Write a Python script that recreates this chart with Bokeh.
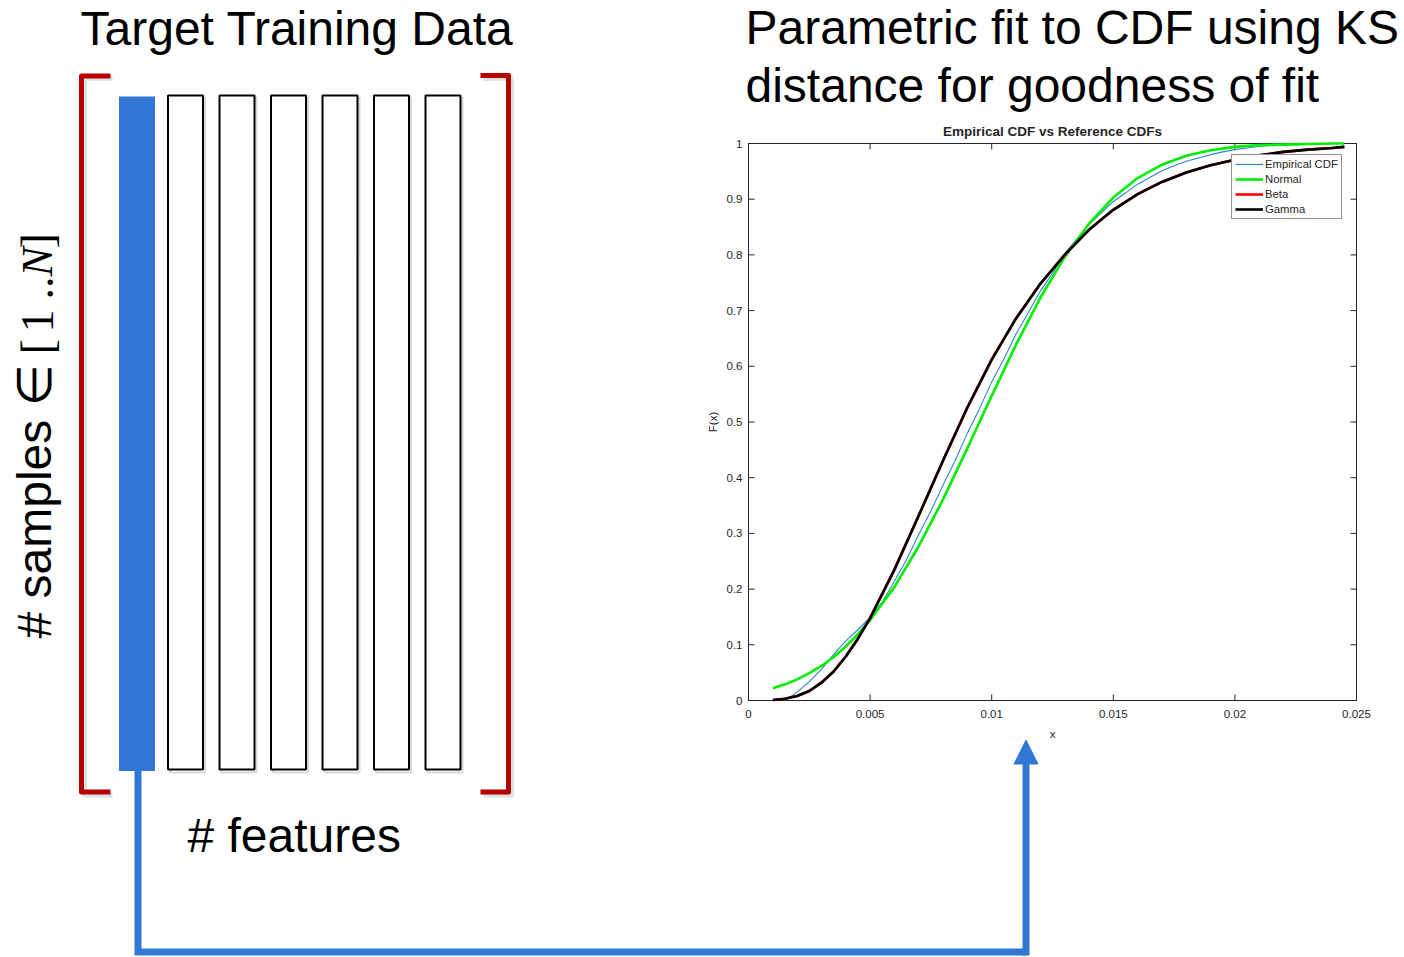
import math

from bokeh.core.properties import value
from bokeh.embed import file_html
from bokeh.models import Arrow, Legend, LegendItem, NormalHead, Range1d
from bokeh.plotting import figure
from bokeh.resources import INLINE

# ---------------------------------------------------------------- data
# Empirical CDF of the selected target feature
ecdf_x = [0.0015, 0.0020, 0.0025, 0.0030, 0.0035, 0.0040, 0.0045, 0.0050,
          0.0055, 0.0060, 0.0065, 0.0070, 0.0075, 0.0080, 0.0085, 0.0090,
          0.0095, 0.0100, 0.0105, 0.0110, 0.0115, 0.0120, 0.0125, 0.0130,
          0.0135, 0.0140, 0.0145, 0.0150, 0.0155, 0.0160, 0.0165, 0.0170,
          0.0175, 0.0180, 0.0185, 0.0190, 0.0195, 0.0200, 0.0205, 0.0210,
          0.0215, 0.0220, 0.0225]
ecdf_f = [0.000, 0.015, 0.034, 0.056, 0.083, 0.107, 0.127, 0.149,
          0.177, 0.214, 0.253, 0.298, 0.340, 0.387, 0.431, 0.480,
          0.524, 0.572, 0.613, 0.658, 0.696, 0.735, 0.767, 0.802,
          0.829, 0.854, 0.875, 0.896, 0.911, 0.927, 0.939, 0.951,
          0.960, 0.968, 0.974, 0.980, 0.985, 0.989, 0.992, 0.995,
          0.997, 0.999, 1.000]

# Fitted reference distributions, evaluated on a common grid
fit_x = [0.0010, 0.0015, 0.0020, 0.0025, 0.0030, 0.0035, 0.0040, 0.0045,
         0.0050, 0.0060, 0.0070, 0.0080, 0.0090, 0.0100, 0.0110, 0.0120,
         0.0130, 0.0140, 0.0150, 0.0160, 0.0170, 0.0180, 0.0190, 0.0200,
         0.0210, 0.0220, 0.0230, 0.0240, 0.0245]
normal_f = [0.022, 0.029, 0.038, 0.049, 0.062, 0.078, 0.097, 0.119,
            0.144, 0.204, 0.277, 0.361, 0.453, 0.547, 0.639, 0.723,
            0.796, 0.856, 0.903, 0.938, 0.962, 0.978, 0.988, 0.994,
            0.997, 0.998, 0.999, 1.000, 1.000]
beta_f = [0.001, 0.003, 0.008, 0.017, 0.032, 0.052, 0.079, 0.111,
          0.148, 0.235, 0.332, 0.431, 0.526, 0.612, 0.686, 0.748,
          0.800, 0.845, 0.881, 0.909, 0.931, 0.948, 0.961, 0.971,
          0.979, 0.985, 0.989, 0.992, 0.994]
gamma_f = [0.001, 0.003, 0.008, 0.017, 0.032, 0.052, 0.079, 0.111,
           0.148, 0.235, 0.332, 0.431, 0.526, 0.612, 0.686, 0.748,
           0.800, 0.845, 0.881, 0.909, 0.931, 0.948, 0.961, 0.971,
           0.979, 0.985, 0.989, 0.992, 0.994]

series_names = ["Empirical CDF", "Normal", "Beta", "Gamma"]

x_ticks = [0, 0.005, 0.01, 0.015, 0.02, 0.025]
x_tick_labels = ["0", "0.005", "0.01", "0.015", "0.02", "0.025"]
y_ticks = [0, 0.1, 0.2, 0.3, 0.4, 0.5, 0.6, 0.7, 0.8, 0.9, 1]
y_tick_labels = ["0", "0.1", "0.2", "0.3", "0.4", "0.5", "0.6", "0.7", "0.8", "0.9", "1"]

n_features = 7
target_feature = 0

# ---------------------------------------------------------------- layout / styles
PAGE_W, PAGE_H = 1404, 957
BOX_L, BOX_R, BOX_T, BOX_B = 748, 1356, 143, 700     # CDF axes box on the page
TICK_PX = 6

SANS = value("Liberation Sans")
SERIF = value("Liberation Serif")
BLUE = "#3178d6"
DARK_RED = "#b40000"
AXIS_INK = "#262626"
SHADOW = "#a8a8a8"

# One canvas in page pixels (y grows downward); the CDF panel gets its own ranges
p = figure(width=PAGE_W, height=PAGE_H, x_range=Range1d(0, PAGE_W),
           y_range=Range1d(PAGE_H, 0), output_backend="svg",
           toolbar_location=None, x_axis_location=None, y_axis_location=None,
           min_border=0)
p.grid.visible = False
p.outline_line_color = None

x_lo, x_hi = x_ticks[0], x_ticks[-1]
y_lo, y_hi = y_ticks[0], y_ticks[-1]
px_per_x = (BOX_R - BOX_L) / (x_hi - x_lo)
px_per_y = (BOX_B - BOX_T) / (y_hi - y_lo)
p.extra_x_ranges = {"cdf_x": Range1d(x_lo - BOX_L / px_per_x,
                                     x_hi + (PAGE_W - BOX_R) / px_per_x)}
p.extra_y_ranges = {"cdf_y": Range1d(y_lo - (PAGE_H - BOX_B) / px_per_y,
                                     y_hi + BOX_T / px_per_y)}
C = dict(x_range_name="cdf_x", y_range_name="cdf_y")

# ---------------------------------------------------------------- data matrix
col_top, col_bottom, col_w = 95, 770, 35
col_centers = [136.5 if i == target_feature else 185 + 51.5 * (i - 1)
               for i in range(n_features)]
plain = [c for i, c in enumerate(col_centers) if i != target_feature]

# soft drop shadows
p.quad(left=[c - col_w / 2 + 2 for c in plain], right=[c + col_w / 2 + 2 for c in plain],
       top=col_top + 2, bottom=col_bottom + 2, fill_color=None,
       line_color=SHADOW, line_alpha=0.45, line_width=2)
for xs in ([112, 84, 84, 112], [483, 511, 511, 483]):
    p.line(xs, [78, 78, 794.5, 794.5], line_color=SHADOW, line_alpha=0.35,
           line_width=5, line_join="round")

p.quad(left=[c - col_w / 2 for c in plain], right=[c + col_w / 2 for c in plain],
       top=col_top, bottom=col_bottom - 1, fill_color="white",
       line_color="black", line_width=2)
tc = col_centers[target_feature]
p.quad(left=tc - col_w / 2 - 0.5, right=tc + col_w / 2 + 0.5, top=col_top + 1,
       bottom=col_bottom + 0.5, fill_color=BLUE, line_color=None)

# brackets
p.line([110, 81, 81, 110], [75.5, 75.5, 791.5, 791.5], line_color=DARK_RED,
       line_width=5, line_join="round")
p.line([480, 508, 508, 480], [75, 75, 791.5, 791.5], line_color=DARK_RED,
       line_width=5, line_join="round")

p.text(x=[80], y=[28], text=["Target Training Data"], text_font=SANS,
       text_font_size="48px", text_baseline="middle", text_color="black")
p.text(x=[187], y=[835], text=["# features"], text_font=SANS,
       text_font_size="48px", text_baseline="middle", text_color="black")

# vertical label "# samples ∈ [1..N]"
up = math.pi / 2
p.text(x=[34], y=[638], text=["# samples \u2208"], angle=up, text_font=SANS,
       text_font_size="48px", text_baseline="alphabetic", text_color="black")
p.text(x=[37, 37, 37, 37], y=[354, 332, 299, 248], text=["[", "1", "..", "]"],
       angle=up, text_font=SERIF, text_font_size="46px",
       text_baseline="alphabetic", text_color="black")
p.text(x=[37], y=[276], text=["N"], angle=up, text_font=SERIF,
       text_font_style="italic", text_font_size="44px",
       text_baseline="alphabetic", text_color="black")

# connector from the target column into the CDF's x axis
p.line([tc + 1, tc + 1, 1025.5], [770, 951.5, 951.5], line_color=BLUE,
       line_width=7, line_join="miter")
p.add_layout(Arrow(x_start=1025.5, y_start=951.5 + 3.5, x_end=1025.5, y_end=739.5,
                   line_color=BLUE, line_width=7,
                   end=NormalHead(size=24, fill_color=BLUE, line_color=BLUE,
                                  line_width=1)))

# ---------------------------------------------------------------- headings on the right
p.text(x=[745, 745], y=[27, 85],
       text=["Parametric fit to CDF using KS", "distance for goodness of fit"],
       text_font=SANS, text_font_size="48px", text_baseline="middle",
       text_color="black")
p.text(x=[(x_lo + x_hi) / 2], y=[y_hi], y_offset=-12,
       text=["Empirical CDF vs Reference CDFs"], text_font=SANS,
       text_font_size="13.5px", text_font_style="bold", text_align="center",
       text_baseline="middle", text_color=AXIS_INK, **C)

# ---------------------------------------------------------------- CDF axes
tx = TICK_PX / px_per_x
ty = TICK_PX / px_per_y
p.quad(left=x_lo, right=x_hi, bottom=y_lo, top=y_hi, fill_color="white",
       line_color=AXIS_INK, line_width=1, **C)
p.segment(x0=x_ticks, y0=y_lo, x1=x_ticks, y1=y_lo + ty, line_color=AXIS_INK, **C)
p.segment(x0=x_ticks, y0=y_hi, x1=x_ticks, y1=y_hi - ty, line_color=AXIS_INK, **C)
p.segment(x0=x_lo, y0=y_ticks, x1=x_lo + tx, y1=y_ticks, line_color=AXIS_INK, **C)
p.segment(x0=x_hi, y0=y_ticks, x1=x_hi - tx, y1=y_ticks, line_color=AXIS_INK, **C)

p.text(x=x_ticks, y=y_lo, text=x_tick_labels, y_offset=13, text_align="center",
       text_baseline="middle", text_font=SANS, text_font_size="11.5px",
       text_color=AXIS_INK, **C)
p.text(x=x_lo, y=y_ticks, text=y_tick_labels, x_offset=-6, text_align="right",
       text_baseline="middle", text_font=SANS, text_font_size="11.5px",
       text_color=AXIS_INK, **C)
p.text(x=[(x_lo + x_hi) / 2], y=[y_lo], text=["x"], y_offset=33, text_align="center",
       text_baseline="middle", text_font=SANS, text_font_size="11.5px",
       text_color=AXIS_INK, **C)
p.text(x=[x_lo], y=[(y_lo + y_hi) / 2], text=["F(x)"], x_offset=-36, angle=up,
       text_align="center", text_baseline="middle", text_font=SANS,
       text_font_size="11.5px", text_color=AXIS_INK, **C)

r_emp = p.line(ecdf_x, ecdf_f, line_color="#2d83d4", line_width=1.1, **C)
r_norm = p.line(fit_x, normal_f, line_color="#00ee00", line_width=2.6, **C)
r_beta = p.line(fit_x, beta_f, line_color="#ff0000", line_width=2.6, **C)
r_gam = p.line(fit_x, gamma_f, line_color="#000000", line_width=2.6, **C)

legend = Legend(items=[LegendItem(label=n, renderers=[r])
                       for n, r in zip(series_names, [r_emp, r_norm, r_beta, r_gam])],
                location=(1231, PAGE_H - 219), orientation="vertical",
                label_text_font="Liberation Sans", label_text_font_size="11.3px",
                label_text_color=AXIS_INK, glyph_width=28, glyph_height=12,
                label_height=12, label_standoff=2, spacing=3, padding=3, margin=0,
                border_line_color=AXIS_INK, border_line_width=1,
                background_fill_color="white", background_fill_alpha=1)
p.add_layout(legend)

with open("out.html", "w") as fh:
    fh.write(file_html(p, INLINE))
